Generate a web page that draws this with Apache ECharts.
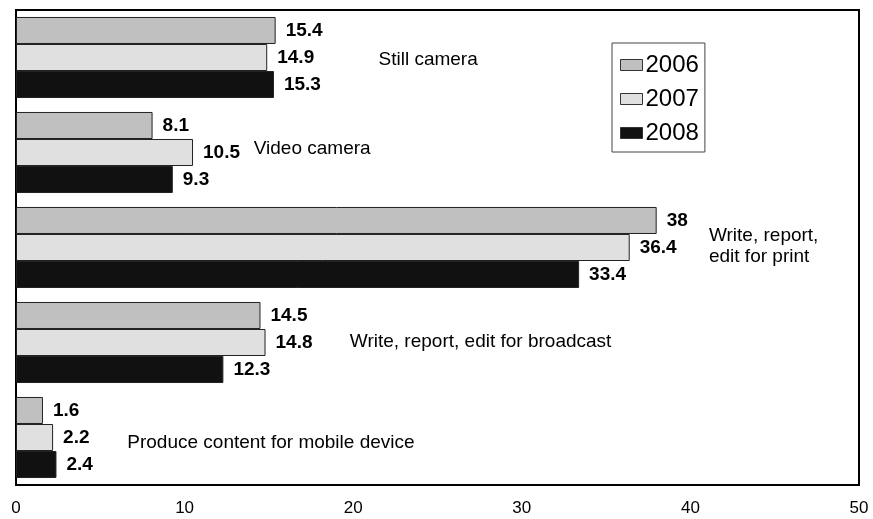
<!DOCTYPE html>
<html>
<head>
<meta charset="utf-8">
<script src="https://cdn.jsdelivr.net/npm/echarts@6/dist/echarts.min.js"></script>
<style>
  html, body { margin: 0; padding: 0; background: #fff; }
  #chart { width: 873px; height: 519px; }
</style>
</head>
<body>
<div id="chart"></div>
<script>
// Activities, top to bottom
const categories = [
  'Still camera',
  'Video camera',
  'Write, report,\nedit for print',
  'Write, report, edit for broadcast',
  'Produce content for mobile device'
];
const years = ['2006', '2007', '2008'];
const values2006 = [15.4, 8.1, 38, 14.5, 1.6];
const values2007 = [14.9, 10.5, 36.4, 14.8, 2.2];
const values2008 = [15.3, 9.3, 33.4, 12.3, 2.4];
const xTicks = [0, 10, 20, 30, 40, 50];

// Where each activity name sits along the value axis, and its small vertical nudge (px)
const nameAnchorX = [21.5, 14.1, 41.1, 19.8, 6.6];
const nameNudgeY = [2, -4, -1, -1, 5];

const fills = ['#c0c0c0', '#e0e0e0', '#111111'];
const font = '"Liberation Sans", Arial, sans-serif';

function barSeries(name, data, color) {
  return {
    name: name,
    type: 'bar',
    data: data,
    barGap: '0%',
    barCategoryGap: '14.7%',
    itemStyle: { color: color, borderColor: '#222', borderWidth: 1 },
    label: {
      show: true,
      position: 'right',
      distance: 10,
      color: '#000',
      fontFamily: font,
      fontWeight: 'bold',
      fontSize: 19
    },
    emphasis: { disabled: true },
    silent: true
  };
}

const chart = echarts.init(document.getElementById('chart'), null, { renderer: 'canvas' });
chart.setOption({
  animation: false,
  backgroundColor: '#fff',
  grid: {
    left: 16, right: 14, top: 10, bottom: 34,
    show: true,
    borderColor: '#000',
    borderWidth: 2,
    backgroundColor: 'transparent'
  },
  legend: {
    data: years,
    orient: 'vertical',
    left: 612,
    top: 43,
    padding: [10, 6, 7, 8],
    itemWidth: 22,
    itemHeight: 11,
    itemGap: 10,
    icon: 'rect',
    itemStyle: { borderColor: '#333', borderWidth: 1 },
    borderColor: '#444',
    borderWidth: 1,
    backgroundColor: '#fff',
    selectedMode: false,
    textStyle: { fontFamily: font, fontSize: 24, color: '#000', lineHeight: 24, padding: [0, 0, 0, -2] }
  },
  xAxis: {
    type: 'value',
    min: xTicks[0],
    max: xTicks[xTicks.length - 1],
    interval: xTicks[1] - xTicks[0],
    axisLine: { show: false },
    axisTick: { show: false },
    splitLine: { show: false },
    axisLabel: { fontFamily: font, fontSize: 17, color: '#000', margin: 15 }
  },
  yAxis: {
    type: 'category',
    data: categories,
    inverse: true,
    axisLine: { show: false },
    axisTick: { show: false },
    axisLabel: { show: false },
    splitLine: { show: false }
  },
  series: [
    barSeries(years[0], values2006, fills[0]),
    barSeries(years[1], values2007, fills[1]),
    barSeries(years[2], values2008, fills[2]),
    {
      name: 'names',
      type: 'scatter',
      symbolSize: 0,
      silent: true,
      itemStyle: { color: '#000', opacity: 1 },
      data: categories.map((c, i) => ({
        value: [nameAnchorX[i], c],
        label: { offset: [0, nameNudgeY[i]] }
      })),
      label: {
        show: true,
        position: 'right',
        distance: 0,
        formatter: p => p.value[1],
        align: 'left',
        fontFamily: font,
        fontSize: 19,
        lineHeight: 21,
        color: '#000',
        textBorderWidth: 0
      },
      emphasis: { disabled: true }
    }
  ]
});
</script>
</body>
</html>
